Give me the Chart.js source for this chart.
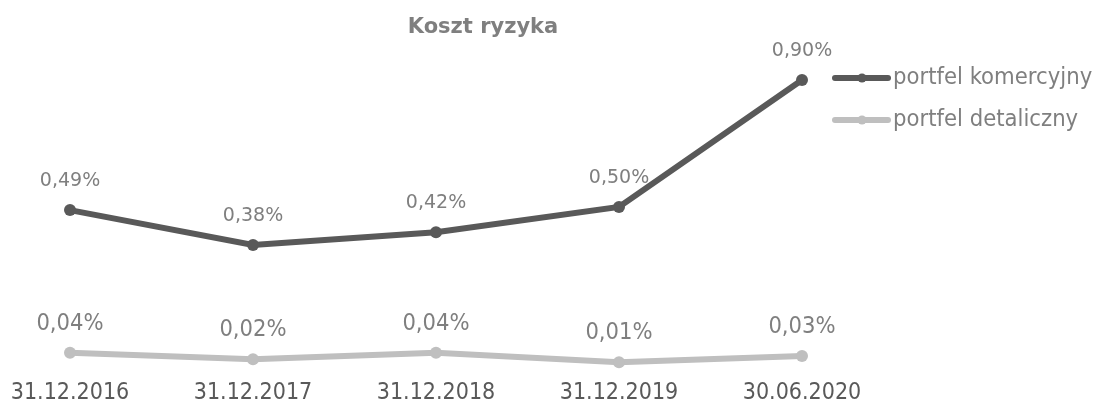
<!DOCTYPE html>
<html>
<head>
<meta charset="utf-8">
<script src="https://cdn.jsdelivr.net/npm/chart.js@4.4.1/dist/chart.umd.min.js"></script>
<style>
    html, body { margin: 0; padding: 0; background: #fff; }
</style>
</head>
<body>
<canvas id="koszt-ryzyka-chart" width="1097" height="403"></canvas>
<script>
// dane wykresu
const labels = ['31.12.2016', '31.12.2017', '31.12.2018', '31.12.2019', '30.06.2020']
const komercyjny = [0.49, 0.38, 0.42, 0.50, 0.90]
const detaliczny = [0.04, 0.02, 0.04, 0.01, 0.03]
const seriesNames = ['portfel komercyjny', 'portfel detaliczny']
const chartTitle = 'Koszt ryzyka'

const condensed = "'DejaVu Sans Condensed', 'DejaVu Sans', sans-serif"

function pct(v) {
    return v.toFixed(2).replace('.', ',') + '%'
}

// etykiety nad punktami
const pointLabels = {
    id: 'pointLabels',
    afterDatasetsDraw(chart) {
        const ctx = chart.ctx
        ctx.save()
        ctx.fillStyle = '#7f7f7f'
        ctx.textAlign = 'center'
        ctx.textBaseline = 'middle'
        chart.data.datasets.forEach((ds, i) => {
            const meta = chart.getDatasetMeta(i)
            ctx.font = ds.labelFont
            meta.data.forEach((pt, j) => {
                ctx.fillText(pct(ds.data[j]), pt.x, pt.y - 29)
            })
        })
        ctx.restore()
    }
}

// tytul + legenda (linia z kropka)
const titleAndLegend = {
    id: 'titleAndLegend',
    afterDraw(chart) {
        const ctx = chart.ctx
        ctx.save()
        ctx.fillStyle = '#7f7f7f'
        ctx.textAlign = 'center'
        ctx.textBaseline = 'middle'
        ctx.font = "bold 21px 'DejaVu Sans', sans-serif"
        ctx.fillText(chartTitle, 483, 28)

        chart.data.datasets.forEach((ds, i) => {
            const y = 78 + i * 42
            ctx.strokeStyle = ds.borderColor
            ctx.lineWidth = 6
            ctx.lineCap = 'round'
            ctx.beginPath()
            ctx.moveTo(835, y)
            ctx.lineTo(888, y)
            ctx.stroke()
            ctx.fillStyle = ds.borderColor
            ctx.beginPath()
            ctx.arc(862, y, 4.5, 0, Math.PI * 2)
            ctx.fill()
            ctx.fillStyle = '#7f7f7f'
            ctx.textAlign = 'left'
            ctx.font = '23.6px ' + condensed
            ctx.fillText(ds.label, 893, y)
        })
        ctx.restore()
    }
}

const ctx = document.getElementById('koszt-ryzyka-chart')

const MyChart = new Chart(ctx, {
    type: 'line',
    data: {
        labels: labels,
        datasets: [{
            label: seriesNames[0],
            data: komercyjny,
            borderColor: '#595959',
            backgroundColor: '#595959',
            borderWidth: 6,
            pointRadius: 6,
            pointBorderWidth: 0,
            pointHoverRadius: 6,
            tension: 0,
            clip: false,
            labelFont: "19px 'DejaVu Sans', sans-serif"
        }, {
            label: seriesNames[1],
            data: detaliczny,
            borderColor: '#bfbfbf',
            backgroundColor: '#bfbfbf',
            borderWidth: 6,
            pointRadius: 6,
            pointBorderWidth: 0,
            pointHoverRadius: 6,
            tension: 0,
            clip: false,
            labelFont: '23.5px ' + condensed
        }]
    },
    options: {
        responsive: false,
        animation: false,
        devicePixelRatio: 1,
        layout: {
            padding: { top: 48.3, left: 70, right: 295, bottom: 0 }
        },
        plugins: {
            legend: { display: false },
            title: { display: false },
            tooltip: { enabled: false }
        },
        scales: {
            x: {
                offset: false,
                grid: { display: false },
                border: { display: false },
                ticks: {
                    color: '#595959',
                    padding: 6,
                    maxRotation: 0,
                    autoSkip: false,
                    font: { family: condensed, size: 23 }
                },
                afterFit(scale) {
                    scale.height = 37.5
                }
            },
            y: {
                display: false,
                min: 0,
                max: 1.0
            }
        }
    },
    plugins: [pointLabels, titleAndLegend]
})
</script>
</body>
</html>
